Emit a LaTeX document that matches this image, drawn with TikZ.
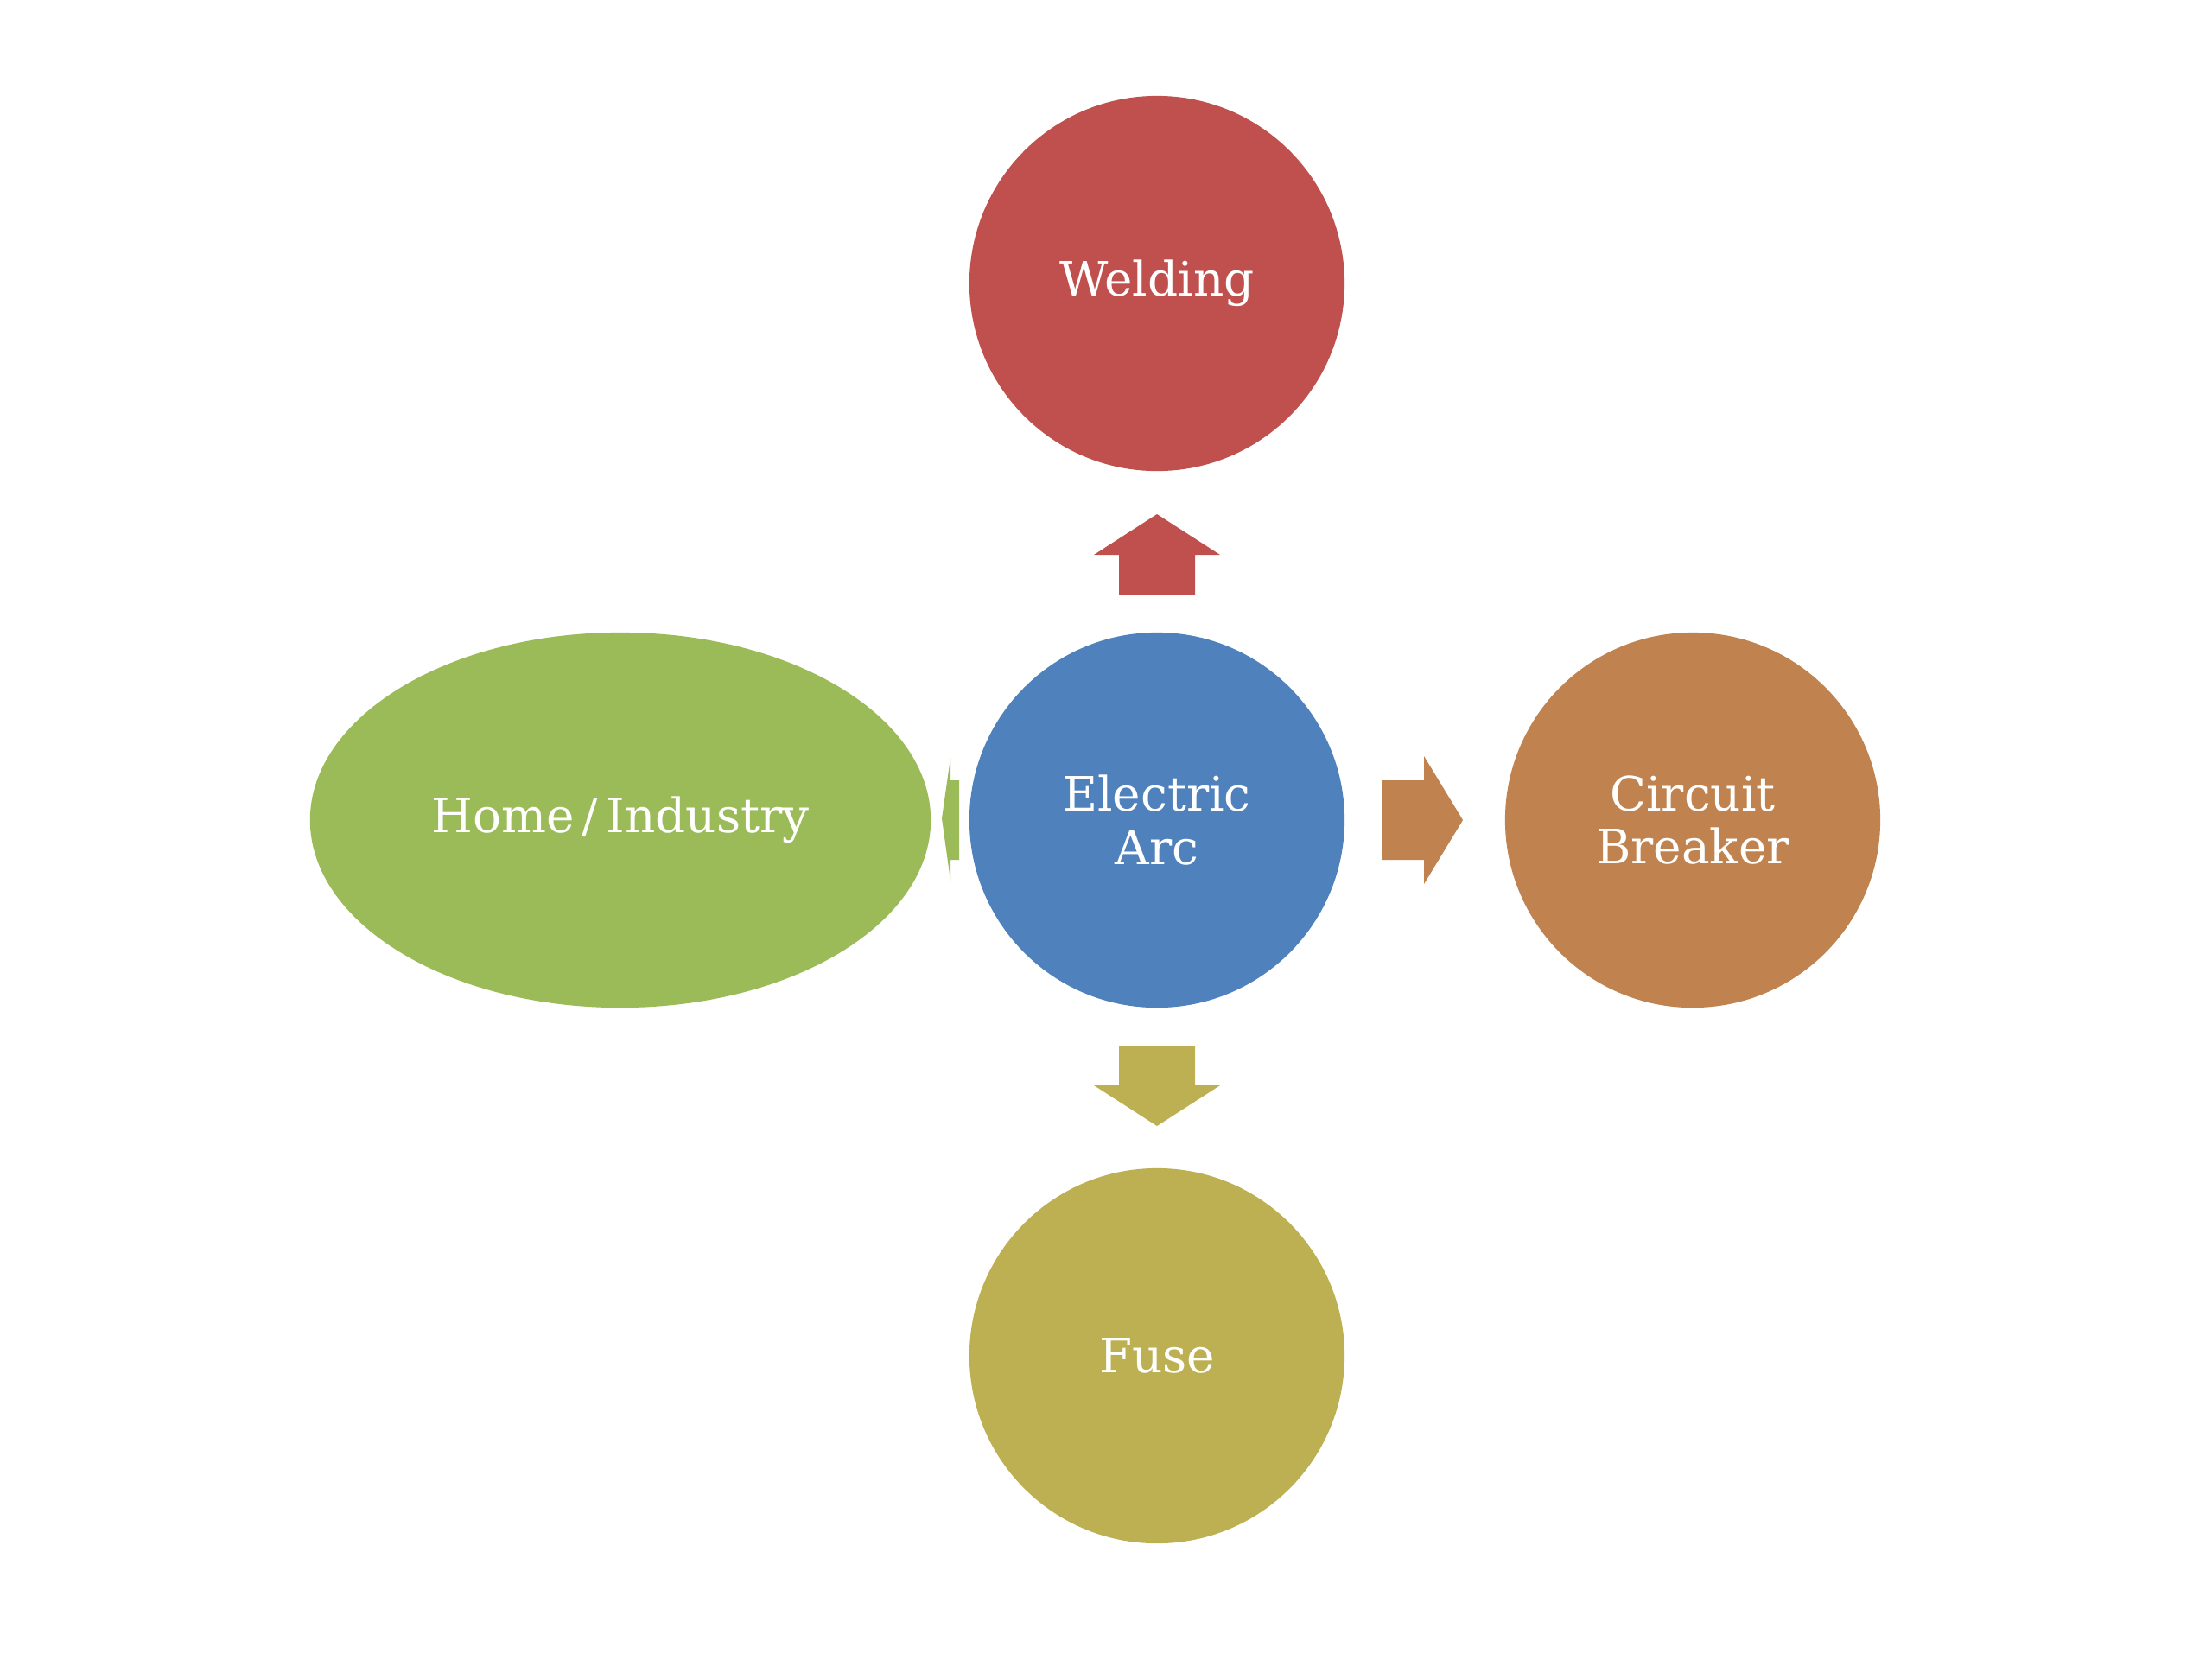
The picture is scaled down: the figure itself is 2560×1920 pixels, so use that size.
\documentclass[tikz,border=0pt]{standalone}
\usepackage{fontspec}
\setmainfont{DejaVu Serif}
\usetikzlibrary{shapes.geometric,calc}
\definecolor{cred}{HTML}{C0504D}
\definecolor{cblue}{HTML}{4F81BD}
\definecolor{cgreen}{HTML}{9BBB59}
\definecolor{corange}{HTML}{C0834F}
\definecolor{colive}{HTML}{BDB052}
\tikzset{
  bubble/.style={circle, minimum size=4.34cm, inner sep=0pt, draw=none, text=white,
    font=\fontsize{15.6}{17.5}\selectfont, align=center},
  ovalbubble/.style={ellipse, minimum width=7.18cm, minimum height=4.34cm, inner sep=0pt,
    draw=none, text=white, font=\fontsize{15.6}{17.5}\selectfont}
}
\begin{document}
\begin{tikzpicture}[x=0.01cm,y=-0.01cm]
\useasboundingbox[fill=white] (0,0) rectangle (2560,1920);
\coordinate (c) at (1339,949);
% block arrows
\fill[cred] ($(c)+(-44,-261)$) -- ($(c)+(44,-261)$) -- ($(c)+(44,-307)$) -- ($(c)+(73,-307)$)
  -- ($(c)+(0,-354)$) -- ($(c)+(-73,-307)$) -- ($(c)+(-44,-307)$) -- cycle;
\fill[colive] ($(c)+(-44,261)$) -- ($(c)+(44,261)$) -- ($(c)+(44,307)$) -- ($(c)+(73,307)$)
  -- ($(c)+(0,354)$) -- ($(c)+(-73,307)$) -- ($(c)+(-44,307)$) -- cycle;
\fill[corange] ($(c)+(261,-46)$) -- ($(c)+(261,46)$) -- ($(c)+(309,46)$) -- ($(c)+(309,74)$)
  -- ($(c)+(354,0)$) -- ($(c)+(309,-74)$) -- ($(c)+(309,-46)$) -- cycle;
\fill[cgreen] ($(c)+(-229,-46)$) -- ($(c)+(-229,46)$) -- ($(c)+(-239,46)$) -- ($(c)+(-239,70)$)
  -- ($(c)+(-249,-2)$) -- ($(c)+(-239,-72)$) -- ($(c)+(-239,-46)$) -- cycle;
% nodes
\node[bubble, fill=cblue] (arc) at (c) {Electric\\Arc};
\node[bubble, fill=cred] (weld) at (1339,328) {Welding};
\node[bubble, fill=corange] (cb) at (1959,949) {Circuit\\Breaker};
\node[bubble, fill=colive] (fuse) at (1339,1569) {Fuse};
\node[ovalbubble, fill=cgreen] (home) at (718,949) {Home\,/\,Industry};
\end{tikzpicture}
\end{document}
